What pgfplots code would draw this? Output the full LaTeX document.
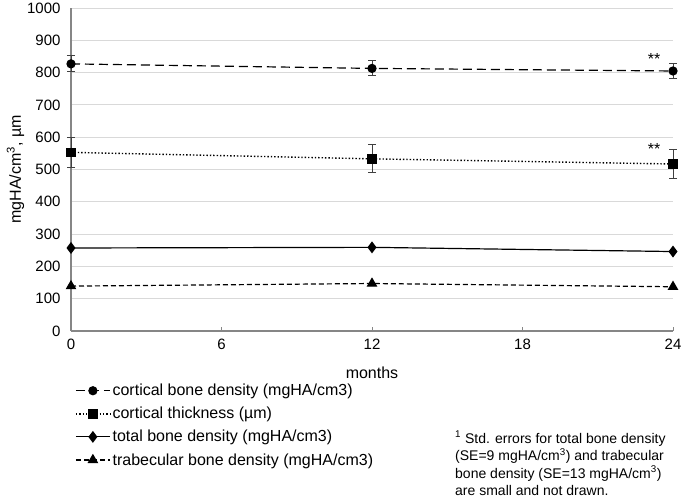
\documentclass[border=0pt]{standalone}
\usepackage{pgfplots}
\pgfplotsset{compat=1.18}
\usepackage{fontspec}
\setmainfont{Liberation Sans}
\definecolor{axisgray}{RGB}{134,134,134}
\definecolor{gridgray}{RGB}{217,217,217}
\definecolor{errgray}{RGB}{64,64,64}
\begin{document}
\begin{tikzpicture}
\path[use as bounding box] (-71bp,-172bp) rectangle (614bp,331bp);
\begin{axis}[
  at={(0,0)}, anchor=south west,
  scale only axis, width=602bp, height=323bp,
  xmin=0, xmax=24, ymin=0, ymax=1000, clip=false,
  xtick={0,6,12,18,24}, ytick={0,100,...,1000},
  axis x line=bottom, axis y line=left,
  axis line style={axisgray, line width=1.2pt, -},
  ymajorgrids, grid style={gridgray, line width=0.8pt},
  tick align=inside, major tick length=4bp,
  xtick style={axisgray, line width=0.8pt},
  ytick style={draw=none},
  /pgf/number format/assume math mode=true,
  /pgf/number format/1000 sep={},
  tick label style={font=\fontsize{15bp}{17bp}\selectfont},
  yticklabel style={xshift=-7bp},
  xticklabel style={yshift=-5bp},
  xlabel={months}, ylabel={mgHA/cm\textsuperscript{3}, µm},
  label style={font=\fontsize{16bp}{18bp}\selectfont},
  xlabel style={yshift=-10bp},
  ylabel style={yshift=-4bp},
  legend style={at={(0,0)}, anchor=north west, xshift=4bp, yshift=-51bp,
    draw=none, fill=none, font=\fontsize{16bp}{18bp}\selectfont,
    row sep=6bp, inner sep=0pt},
  legend cell align=left,
  legend image code/.code={\draw[mark repeat=2, mark phase=2, #1]
    plot coordinates {(0bp,0bp) (17bp,0bp) (34bp,0bp)};},
  error bars/error bar style={errgray, solid, line width=1pt},
  error bars/error mark options={rotate=90, mark size=4bp, errgray, solid, line width=1pt},
]
\addplot[black, line width=1.2pt, dash pattern=on 9bp off 5bp, mark=*, mark size=4bp,
  mark options={solid, fill=black},
  error bars/.cd, y dir=both, y explicit]
  coordinates {(0,827) +- (0,25) (12,813) +- (0,23) (24,805) +- (0,23)};
\addplot[black, line width=1.4pt, dotted, mark=square*, mark size=4bp,
  mark options={solid, fill=black},
  error bars/.cd, y dir=both, y explicit]
  coordinates {(0,553) +- (0,46) (12,533) +- (0,43) (24,517) +- (0,44)};
\addplot[black, line width=1.2pt, solid, mark=diamond*, mark size=5bp,
  mark options={solid, fill=black}]
  coordinates {(0,257) (12,259) (24,246)};
\addplot[black, line width=1.2pt, dash pattern=on 5bp off 3bp, mark=triangle*, mark size=5bp,
  mark options={solid, fill=black}]
  coordinates {(0,139) (12,147) (24,137)};
\legend{cortical bone density (mgHA/cm3), cortical thickness (µm),
  total bone density (mgHA/cm3), trabecular bone density (mgHA/cm3)}
\node[font=\fontsize{16bp}{18bp}\selectfont] at (axis cs:23.25,843) {**};
\node[font=\fontsize{16bp}{18bp}\selectfont] at (axis cs:23.25,565) {**};
\end{axis}
\node[anchor=north west, align=left, inner sep=0pt,
  font=\fontsize{14bp}{17.5bp}\selectfont] at (384bp,-100bp)
  {\textsuperscript{1} Std. errors for total bone density\\
   (SE=9 mgHA/cm\textsuperscript{3}) and trabecular\\
   bone density (SE=13 mgHA/cm\textsuperscript{3})\\
   are small and not drawn.};
\end{tikzpicture}
\end{document}
